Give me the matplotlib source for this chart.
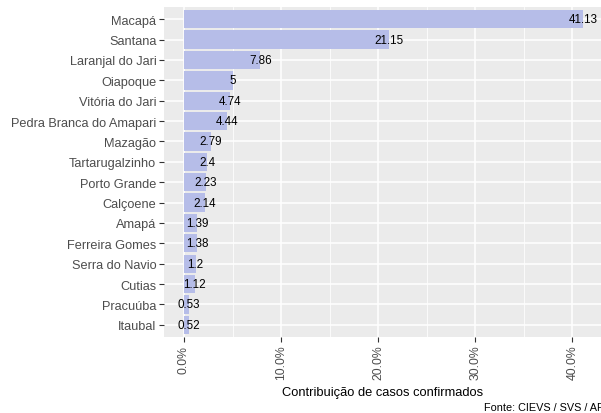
import matplotlib
matplotlib.use("Agg")
import matplotlib.pyplot as plt
from matplotlib.ticker import FixedLocator

plt.rcParams['font.family'] = ['Liberation Sans', 'DejaVu Sans']

municipios = ["Macapá", "Santana", "Laranjal do Jari", "Oiapoque", "Vitória do Jari",
              "Pedra Branca do Amapari", "Mazagão", "Tartarugalzinho", "Porto Grande",
              "Calçoene", "Amapá", "Ferreira Gomes", "Serra do Navio", "Cutias",
              "Pracuúba", "Itaubal"]
percentual = [41.13, 21.15, 7.86, 5, 4.74, 4.44, 2.79, 2.4, 2.23, 2.14, 1.39, 1.38,
              1.2, 1.12, 0.53, 0.52]
x_ticks = [0.0, 0.1, 0.2, 0.3, 0.4]
x_tick_labels = ["0.0%", "10.0%", "20.0%", "30.0%", "40.0%"]

W, H = 601, 414
fig = plt.figure(figsize=(W / 100, H / 100), dpi=100)
ax = fig.add_axes([164 / W, (H - 338) / H, (W - 164) / W, 330 / H])

ax.set_facecolor('#EBEBEB')
n = len(municipios)
ypos = [n - i for i in range(n)]
frac = [v / 100 for v in percentual]

ax.barh(ypos, frac, height=0.9, color='#B6BDE8', zorder=2)
for y, f, v in zip(ypos, frac, percentual):
    ax.text(f, y, f"{v:g}", ha='center', va='center', fontsize=8.4,
            color='black', zorder=3)

ax.set_yticks(ypos)
ax.set_yticklabels(municipios, fontsize=9.2, color='#4D4D4D')
ax.set_ylim(0.4, n + 0.6)

ax.xaxis.set_major_locator(FixedLocator(x_ticks))
ax.set_xticklabels(x_tick_labels, rotation=90, fontsize=8.8, color='#4D4D4D')
ax.xaxis.set_minor_locator(FixedLocator([0.05, 0.15, 0.25, 0.35]))
ax.set_xlim(-0.0206, (W - 184.3) / 970)

ax.grid(which='major', color='white', linewidth=1.1, zorder=0)
ax.grid(which='minor', axis='x', color='white', linewidth=0.55, zorder=0)
ax.set_axisbelow(True)
for s in ax.spines.values():
    s.set_visible(False)
ax.tick_params(which='major', length=3.5, width=0.8, color='#333333', pad=2)
ax.tick_params(which='minor', length=0)

ax.set_xlabel("Contribuição de casos confirmados", fontsize=9.3, color='black', labelpad=5)
fig.text(604 / W, 1 - 408 / H, "Fonte: CIEVS / SVS / AP", ha='right', va='center',
         fontsize=7.8, color='black')

fig.savefig("out.png", dpi=100)
